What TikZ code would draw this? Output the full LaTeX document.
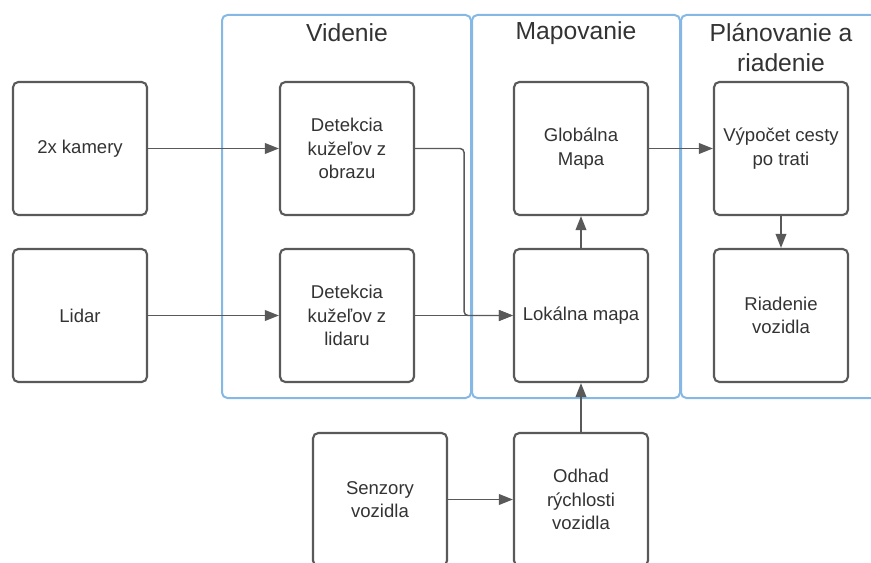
\documentclass[tikz,border=0pt]{standalone}
\usepackage{fontspec}
\setmainfont{Liberation Sans}
\usepackage{tikz}
\usetikzlibrary{arrows.meta}

\definecolor{sedaciara}{RGB}{89,89,89}
\definecolor{modra}{RGB}{133,184,228}
\definecolor{textcolor}{RGB}{51,51,51}

\tikzset{
  blok/.style={draw=sedaciara, line width=1.6pt, rounded corners=4pt, fill=white,
    minimum width=100.5pt, minimum height=99.75pt, align=center, text=textcolor,
    font=\fontsize{13.9}{17.6}\selectfont, inner sep=2pt},
  skupina/.style={draw=modra, line width=1.5pt, rounded corners=4pt},
  nadpis/.style={align=center, text=textcolor, font=\fontsize{18.5}{22.5}\selectfont, inner sep=0.75pt},
  sipka/.style={draw=sedaciara, line width=1.1pt, -{Triangle[length=10.5pt,width=8pt]}},
}

\begin{document}
\begin{tikzpicture}[x=0.75pt,y=0.75pt,yscale=-1,xscale=1]
\useasboundingbox (0,0) rectangle (871,563);
\clip (0,0) rectangle (871,563);

%Containers
\draw [skupina] (222,15) rectangle (471,398);
\draw [skupina] (472,15) rectangle (680,398);
\draw [skupina] (681,15) rectangle (885,398);

% Titles
\node [nadpis] (tVidenie) at (347,33) {Videnie};
\node [nadpis] (tMapovanie) at (576,33) {Mapovanie};
\node [nadpis] (tPlanovanie) at (781,48) {Plánovanie a\\riadenie};

% Blocks
\node [blok] (kamery) at (80,148.5) {2x kamery};
\node [blok] (lidar) at (80,315.5) {Lidar};
\node [blok] (obrazu) at (347,148.5) {Detekcia\\kužeľov z\\obrazu};
\node [blok] (lidaru) at (347,315.5) {Detekcia\\kužeľov z\\lidaru};
\node [blok] (globalna) at (581,148.5) {Globálna\\Mapa};
\node [blok] (lokalna) at (581,315.5) {Lokálna mapa};
\node [blok] (vypocet) at (781,148.5) {Výpočet cesty\\po trati};
\node [blok] (riadenie) at (781,315.5) {Riadenie\\vozidla};
\node [blok] (senzory) at (380,499.5) {Senzory\\vozidla};
\node [blok] (odhad) at (581,499.5) {Odhad\\rýchlosti\\vozidla};

% Arrows
\draw [sipka] (kamery) -- (obrazu);
\draw [sipka] (lidar) -- (lidaru);
\draw [sipka, rounded corners=3pt] (obrazu.east) -- ++(49,0) |- (lokalna.west);
\draw [sipka] (lidaru) -- (lokalna);
\draw [sipka] (lokalna) -- (globalna);
\draw [sipka] (globalna) -- (vypocet);
\draw [sipka] (vypocet) -- (riadenie);
\draw [sipka] (odhad) -- (lokalna);
\draw [sipka] (senzory) -- (odhad);

\end{tikzpicture}
\end{document}
